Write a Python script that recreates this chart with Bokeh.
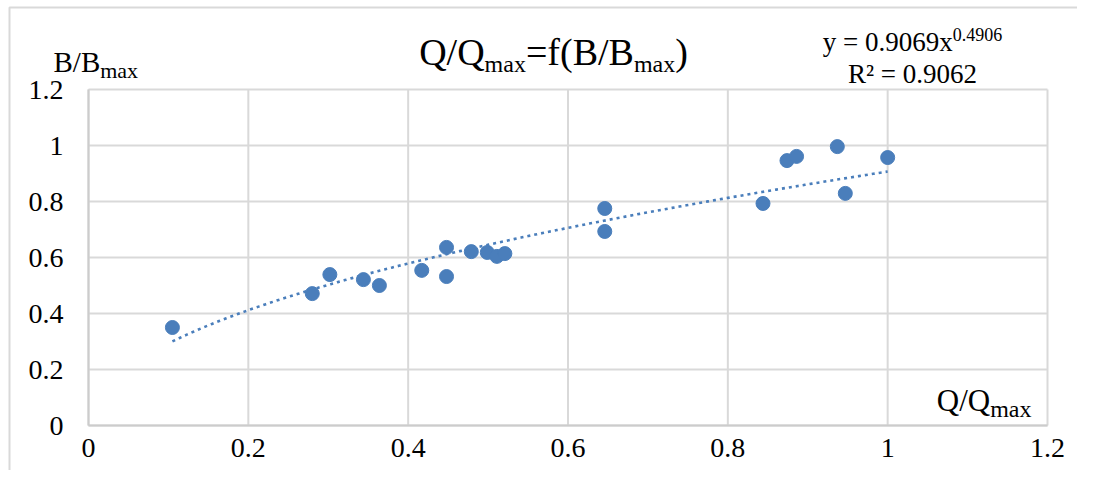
import numpy as np
from bokeh.plotting import figure
from bokeh.models import Label, FixedTicker, LinearAxis, Range1d
from bokeh.embed import file_html
from bokeh.resources import INLINE

# ---- data ----
q_ratio = [0.105, 0.280, 0.302, 0.344, 0.364, 0.417, 0.448, 0.448, 0.479, 0.499,
           0.511, 0.521, 0.646, 0.646, 0.844, 0.874, 0.886, 0.937, 0.947, 1.000]
b_ratio = [0.350, 0.471, 0.539, 0.521, 0.500, 0.554, 0.636, 0.532, 0.621, 0.618,
           0.604, 0.614, 0.775, 0.693, 0.793, 0.946, 0.961, 0.996, 0.829, 0.957]
fit_coef = 0.9069
fit_exp = 0.4906
r_squared = 0.9062
tick_values = [0, 0.2, 0.4, 0.6, 0.8, 1.0, 1.2]
tick_labels = ["0", "0.2", "0.4", "0.6", "0.8", "1", "1.2"]
axis_min, axis_max = 0, 1.2

BLUE = "#4a7ebb"
GRID = "#d9d9d9"
FONT = "Liberation Serif"

# ---- layout (page pixels) ----
W, H = 1077, 470
FX, FY = 1, 1                 # observed figure origin on the page
PLOT_L, PLOT_R = 89, 1048     # page x of axis_min / axis_max
PLOT_B, PLOT_T = 426, 90      # page y of axis_min / axis_max
BORDER_X, BORDER_Y = 10, 8    # outer chart-area border (left / top)
BASE_FIX = 0.2                # baseline correction (fraction of font size)
PXX = (PLOT_R - PLOT_L) / (axis_max - axis_min)
PXY = (PLOT_B - PLOT_T) / (axis_max - axis_min)


def dx(px):
    return (px - PLOT_L) / PXX


def dy(py):
    return (PLOT_B - py) / PXY


x_lo, x_hi = dx(FX), dx(FX + W)
y_lo, y_hi = dy(FY + H), dy(FY)

p = figure(width=W, height=H, output_backend="svg", toolbar_location=None,
           title=None, x_range=Range1d(x_lo, x_hi), y_range=Range1d(y_lo, y_hi),
           x_axis_type=None, y_axis_type=None, min_border=0)
p.outline_line_color = None
p.background_fill_color = "white"
p.border_fill_color = "white"
p.xgrid.visible = False
p.ygrid.visible = False

# outer chart-area border (left and top edges)
p.line(x=[dx(BORDER_X), dx(BORDER_X), x_hi + 1],
       y=[y_lo - 1, dy(BORDER_Y), dy(BORDER_Y)],
       line_color=GRID, line_width=2)

# grid lines limited to the axis box
zeros = [axis_min] * len(tick_values)
tops = [axis_max] * len(tick_values)
p.segment(x0=tick_values, y0=zeros, x1=tick_values, y1=tops,
          line_color=GRID, line_width=2)
p.segment(x0=zeros, y0=tick_values, x1=tops, y1=tick_values,
          line_color=GRID, line_width=2)

xaxis = LinearAxis(fixed_location=axis_min, bounds=(axis_min, axis_max))
yaxis = LinearAxis(fixed_location=axis_min, bounds=(axis_min, axis_max))
for ax in (xaxis, yaxis):
    ax.ticker = FixedTicker(ticks=tick_values)
    ax.major_label_overrides = {v: t for v, t in zip(tick_values, tick_labels)}
    ax.major_tick_line_color = None
    ax.minor_tick_line_color = None
    ax.major_tick_in = 0
    ax.major_tick_out = 0
    ax.axis_line_color = "#cccccc"
    ax.axis_line_width = 2
    ax.major_label_text_font = FONT
    ax.major_label_text_font_size = "28px"
    ax.major_label_text_color = "#000000"
xaxis.major_label_standoff = 13
yaxis.major_label_standoff = 25
p.add_layout(xaxis, "below")
p.add_layout(yaxis, "left")

# trend line (power fit shown on the chart)
xs = np.linspace(min(q_ratio), max(q_ratio), 200)
ys = fit_coef * xs ** fit_exp
p.line(xs, ys, line_color=BLUE, line_width=2.6, line_dash="3 4")

p.scatter(q_ratio, b_ratio, size=14, fill_color=BLUE, line_color=BLUE)

# ---- text annotations ----
ADV = {"Q": .722, "/": .278, "=": .564, "f": .333, "(": .333, ")": .333,
       "B": .667, "m": .778, "a": .444, "x": .5, "y": .5, " ": .25, ".": .25,
       "R": .667, "²": .3}
for d in "0123456789":
    ADV[d] = .5


def tw(s, size):
    return sum(ADV.get(c, .5) for c in s) * size


def place(segments, start_px, base_py):
    x = start_px
    for text, size, shift in segments:
        py = base_py + shift - BASE_FIX * size
        p.add_layout(Label(x=dx(x), y=dy(py),
                           text=text, text_font=FONT,
                           text_font_size=f"{size}px", text_color="black",
                           text_align="left", text_baseline="alphabetic"))
        x += tw(text, size)


def width(segments):
    return sum(tw(t, s) for t, s, _ in segments)


yname = [("B/B", 29, 0), ("max", 22, 7)]
place(yname, 54, 68)

title = [("Q/Q", 38, 0), ("max", 24, 9), ("=f(B/B", 38, 0), ("max", 24, 9), (")", 38, 0)]
place(title, 554 - width(title) / 2, 60)

eq1 = [("y = " + f"{fit_coef:.4f}" + "x", 27, 0), (f"{fit_exp:.4f}", 18, -9)]
place(eq1, 913 - width(eq1) / 2, 48)
eq2 = [("R² = " + f"{r_squared:.4f}", 27, 0)]
place(eq2, 913 - width(eq2) / 2, 80)

xname = [("Q/Q", 31, 0), ("max", 24, 7)]
place(xname, 1032 - width(xname), 407)

open("out.html", "w").write(file_html(p, INLINE))
